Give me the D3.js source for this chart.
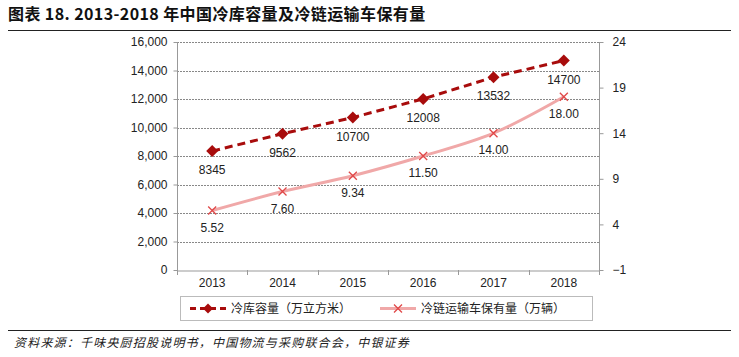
<!DOCTYPE html>
<html><head><meta charset="utf-8">
<script src="https://cdn.jsdelivr.net/npm/d3@7"></script>
<style>
body{margin:0;background:#fff;}
svg{display:block;font-family:"Liberation Sans",Arial,sans-serif;}
</style></head>
<body><svg id="c" width="739" height="357"></svg>
<script>
const years = ["2013","2014","2015","2016","2017","2018"];
const coldStorage = [8345, 9562, 10700, 12008, 13532, 14700];
const trucks = [5.52, 7.60, 9.34, 11.50, 14.00, 18.00];
const truckLabels = ["5.52","7.60","9.34","11.50","14.00","18.00"];
const leftTicks = [0,2000,4000,6000,8000,10000,12000,14000,16000];
const rightTicks = [-1,4,9,14,19,24];
const seriesNames = ["冷库容量（万立方米）","冷链运输车保有量（万辆）"];
const title = "图表 18. 2013-2018 年中国冷库容量及冷链运输车保有量";
const source = "资料来源：千味央厨招股说明书，中国物流与采购联合会，中银证券";

const svg = d3.select("#c");
const L=177, R=599, T=42, B=270;
const x = d3.scaleBand().domain(years).range([L,R]);
const yL = d3.scaleLinear().domain([0,16000]).range([B,T]);
const yR = d3.scaleLinear().domain([-1,24]).range([B,T]);
const dark="#A80C0C", pink="#F0A8A8", xcol="#E04848";

// title
svg.append("text").attr("x",8).attr("y",20).attr("font-size",16).attr("font-weight","bold")
  .attr("letter-spacing",0.4)
  .attr("font-family","'Noto Sans CJK SC','Liberation Sans',sans-serif").attr("fill","#111").text(title);
svg.append("line").attr("x1",8).attr("x2",731).attr("y1",30.5).attr("y2",30.5).attr("stroke","#222").attr("stroke-width",1);
svg.append("line").attr("x1",8).attr("x2",731).attr("y1",330.5).attr("y2",330.5).attr("stroke","#222").attr("stroke-width",1);
svg.append("text").attr("x",14).attr("y",347).attr("font-size",12).attr("font-style","italic")
  .attr("letter-spacing",1.2)
  .attr("font-family","'Noto Sans CJK SC',sans-serif").attr("fill","#222").text(source);

// gridlines
svg.append("g").selectAll("line").data(leftTicks.filter(d=>d>0)).join("line")
  .attr("x1",L).attr("x2",R).attr("y1",d=>Math.round(yL(d))+0.5).attr("y2",d=>Math.round(yL(d))+0.5)
  .attr("stroke","#888").attr("stroke-width",1).attr("stroke-dasharray","2,1");

// axes
const gl = svg.append("g").attr("transform",`translate(${L+0.5},0)`)
  .call(d3.axisLeft(yL).tickValues(leftTicks).tickFormat(d3.format(",")).tickSize(4).tickPadding(6));
const gr = svg.append("g").attr("transform",`translate(${R+0.5},0)`)
  .call(d3.axisRight(yR).tickValues(rightTicks).tickSize(4).tickPadding(9));
const gx = svg.append("g").attr("transform",`translate(0,${B+0.5})`)
  .call(d3.axisBottom(x).tickSize(0).tickPadding(8));
[gl,gr,gx].forEach(g=>{
  g.selectAll("path").attr("stroke","#999");
  g.selectAll("line").attr("stroke","#999");
  g.selectAll("text").attr("font-size",12).attr("fill","#222").attr("font-family","'Liberation Sans',Arial,sans-serif");
});
gl.select(".domain").attr("d",`M0,${B}V${T}`);
gr.select(".domain").attr("d",`M0,${B}V${T}`);
// x boundary ticks
svg.append("g").selectAll("line").data(d3.range(years.length+1)).join("line")
  .attr("x1",i=>Math.round(L+i*x.step())+0.5).attr("x2",i=>Math.round(L+i*x.step())+0.5)
  .attr("y1",B).attr("y2",B+5).attr("stroke","#999");

const cx = d => x(d)+x.bandwidth()/2;

// truck series (smooth)
const line2 = d3.line().x((d,i)=>cx(years[i])).y(d=>yR(d)).curve(d3.curveCatmullRom.alpha(0));
svg.append("path").attr("d",line2(trucks)).attr("fill","none").attr("stroke",pink).attr("stroke-width",3);
svg.append("g").selectAll("path").data(trucks).join("path")
  .attr("d",(d,i)=>{const a=cx(years[i]),b=yR(d),s=4;return `M${a-s},${b-s}L${a+s},${b+s}M${a-s},${b+s}L${a+s},${b-s}`;})
  .attr("stroke",xcol).attr("stroke-width",1.3);
svg.append("g").selectAll("text").data(trucks).join("text")
  .attr("x",(d,i)=>cx(years[i])).attr("y",d=>yR(d)+21).attr("text-anchor","middle")
  .attr("font-size",12).attr("fill","#222").text((d,i)=>truckLabels[i]);

// cold storage series
const line1 = d3.line().x((d,i)=>cx(years[i])).y(d=>yL(d));
svg.append("path").attr("d",line1(coldStorage)).attr("fill","none").attr("stroke",dark)
  .attr("stroke-width",3).attr("stroke-dasharray","8,5");
svg.append("g").selectAll("path").data(coldStorage).join("path")
  .attr("d",(d,i)=>{const a=cx(years[i]),b=yL(d),s=6;return `M${a},${b-s}L${a+s},${b}L${a},${b+s}L${a-s},${b}Z`;})
  .attr("fill",dark);
svg.append("g").selectAll("text").data(coldStorage).join("text")
  .attr("x",(d,i)=>cx(years[i])).attr("y",d=>yL(d)+23).attr("text-anchor","middle")
  .attr("font-size",12).attr("fill","#222").text(d=>d);

// legend
const lg = svg.append("g");
lg.append("rect").attr("x",180.5).attr("y",296.5).attr("width",412).attr("height",24).attr("fill","none").attr("stroke","#bbb");
const ly=308.5;
lg.append("line").attr("x1",190).attr("x2",226).attr("y1",ly).attr("y2",ly).attr("stroke",dark).attr("stroke-width",3).attr("stroke-dasharray","6,4");
lg.append("path").attr("d",`M208,${ly-5}L213,${ly}L208,${ly+5}L203,${ly}Z`).attr("fill",dark);
lg.append("text").attr("x",231).attr("y",ly+4.5).attr("font-size",12).attr("font-family","'Noto Sans CJK SC',sans-serif").attr("fill","#222").text(seriesNames[0]);
lg.append("line").attr("x1",380).attr("x2",416).attr("y1",ly).attr("y2",ly).attr("stroke",pink).attr("stroke-width",3);
lg.append("path").attr("d",`M394,${ly-4}L402,${ly+4}M394,${ly+4}L402,${ly-4}`).attr("stroke",xcol).attr("stroke-width",1.3);
lg.append("text").attr("x",421).attr("y",ly+4.5).attr("font-size",12).attr("font-family","'Noto Sans CJK SC',sans-serif").attr("fill","#222").text(seriesNames[1]);
</script></body></html>
